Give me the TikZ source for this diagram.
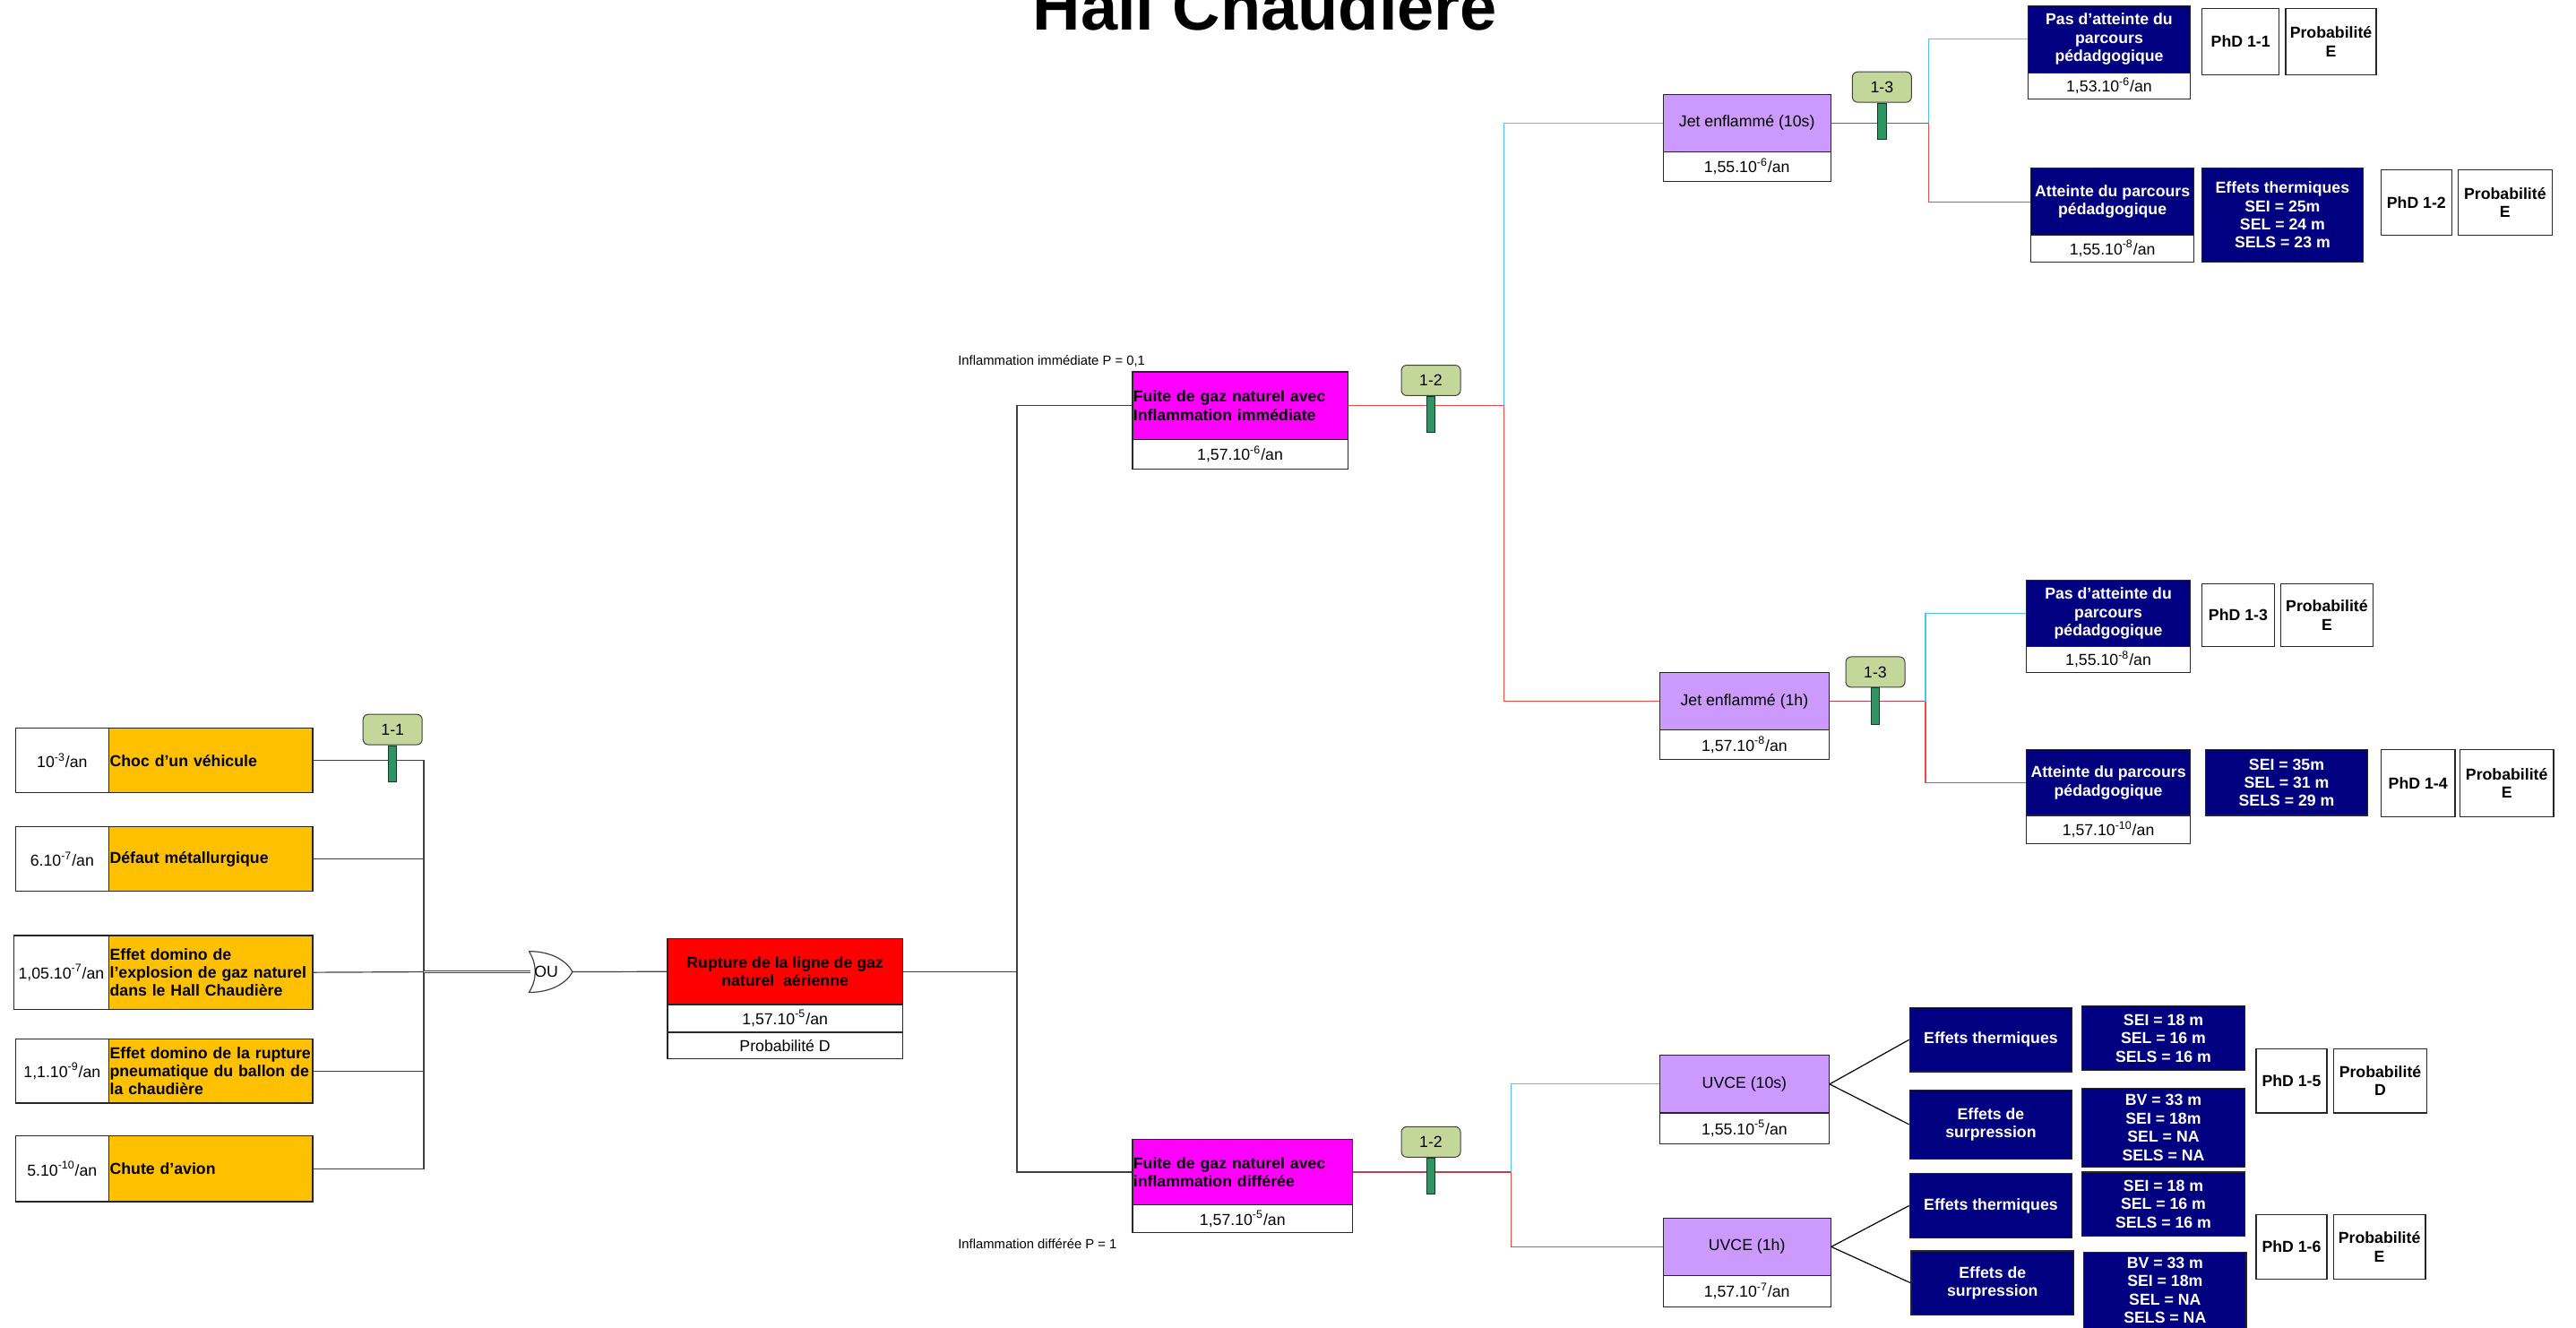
\documentclass[tikz,border=0pt]{standalone}
\usepackage{fontspec}
\setmainfont{Liberation Sans}
\def\pxu{0.91675pt}
\newcommand\fs{\fontsize{8.85pt}{10.2pt}\selectfont}
\newcommand\fsb{\fontsize{8.85pt}{10.2pt}\selectfont\bfseries}
\newcommand\fss{\fontsize{7.4pt}{8.6pt}\selectfont}
\definecolor{cOrange}{HTML}{FFC000}
\definecolor{cRed}{HTML}{FF0000}
\definecolor{cMag}{HTML}{FF00FF}
\definecolor{cLav}{HTML}{CC99FF}
\definecolor{cNavy}{HTML}{000080}
\definecolor{cTag}{HTML}{C4D79B}
\definecolor{cStem}{HTML}{2E9462}
\definecolor{cBlue}{HTML}{4FC3F0}
\definecolor{cRedL}{HTML}{F04848}
\definecolor{cDRed}{HTML}{B8434F}
\definecolor{cLine}{HTML}{404040}
\tikzset{
  R/.style n args={4}{at={(#1,#2)},anchor=north west,
    minimum width={(#3-#1)*\pxu},minimum height={(#4-#2)*\pxu}},
  cell/.style={draw=black!85,line width=0.6pt,inner sep=1pt,align=center,font=\fs},
  wcell/.style={cell,fill=white},
  lt/.style={align=left,text width={#1*\pxu-1pt},inner xsep=0.5pt},
  ocell/.style={cell,fill=cOrange,font=\fsb},
  rcell/.style={cell,fill=cRed,font=\fsb},
  mcell/.style={cell,fill=cMag,font=\fsb},
  lcell/.style={cell,fill=cLav},
  ncell/.style={cell,fill=cNavy,text=white,font=\fsb},
  bcell/.style={cell,fill=white,font=\fsb},
  lbl/.style={font=\fss,inner sep=0pt},
  conn/.style={draw=cLine,line width=0.6pt},
  dbl/.style={draw=cLine,line width=0.6pt,double=white,double distance=0.7pt},
  bline/.style={draw=cBlue,line width=0.6pt},
  rline/.style={draw=cRedL,line width=0.6pt},
  drline/.style={draw=cDRed,line width=0.6pt},
  tag/.style={draw=black!75,fill=cTag,rounded corners=3pt,line width=0.5pt,
    font=\fs,minimum width=36*\pxu,minimum height=18.5*\pxu,inner sep=0pt},
  stem/.style={draw=black!60!cStem,fill=cStem,line width=0.4pt,anchor=north,
    minimum width=5*\pxu,minimum height=22*\pxu,inner sep=0pt},
  gate/.style={draw=cLine,line width=0.6pt,fill=white},
}
\begin{document}
\begin{tikzpicture}[x=0.91675pt,y=-0.91675pt]
\useasboundingbox (0,0) rectangle (1568,808);

% title
\node[font=\fontsize{37pt}{40pt}\selectfont\bfseries,anchor=base,inner sep=0pt] (title) at (770,18) {Hall Chaudière};

% initiating events
\node[wcell,R={9}{443}{66}{482}] (e1v) {10\textsuperscript{-3}/an};
\node[ocell,R={66}{443}{190}{482},lt=124] (e1) {Choc d'un véhicule};
\node[wcell,R={9}{503}{66}{542}] (e2v) {6.10\textsuperscript{-7}/an};
\node[ocell,R={66}{503}{190}{542},lt=124] (e2) {Défaut métallurgique};
\node[wcell,R={8}{569}{66}{614}] (e3v) {1,05.10\textsuperscript{-7}/an};
\node[ocell,R={66}{569}{190}{614},lt=124] (e3) {\mbox{Effet domino de}\\\mbox{l’explosion de gaz naturel}\\\mbox{dans le Hall Chaudière}};
\node[wcell,R={9}{632}{66}{671}] (e4v) {1,1.10\textsuperscript{-9}/an};
\node[ocell,R={66}{632}{190}{671},lt=124] (e4) {\mbox{Effet domino de la rupture}\\\mbox{pneumatique du ballon de}\\\mbox{la chaudière}};
\node[wcell,R={9}{691}{66}{731}] (e5v) {5.10\textsuperscript{-10}/an};
\node[ocell,R={66}{691}{190}{731},lt=124] (e5) {Chute d'avion};

% central event
\node[rcell,R={406}{571}{549}{611}] (rup) {Rupture de la ligne de gaz\\naturel~ aérienne};
\node[wcell,R={406}{611}{549}{628}] (rupv) {1,57.10\textsuperscript{-5}/an};
\node[wcell,R={406}{628}{549}{644}] (rupp) {Probabilité D};

% leaks
\node[mcell,R={689}{226}{820}{267},lt=131] (f1) {Fuite de gaz naturel avec\\Inflammation immédiate};
\node[wcell,R={689}{267}{820}{285}] (f1v) {1,57.10\textsuperscript{-6}/an};
\node[mcell,R={689}{693}{823}{733},lt=134] (f2) {Fuite de gaz naturel avec\\inflammation différée};
\node[wcell,R={689}{733}{823}{750}] (f2v) {1,57.10\textsuperscript{-5}/an};
\node[lbl,anchor=west] (l1) at (583,220) {Inflammation immédiate P = 0,1};
\node[lbl,anchor=west] (l2) at (583,757) {Inflammation différée P = 1};

% phenomena
\node[lcell,R={1012}{57}{1114}{92}] (j10) {Jet enflammé (10s)};
\node[wcell,R={1012}{92}{1114}{110}] (j10v) {1,55.10\textsuperscript{-6}/an};
\node[lcell,R={1010}{409}{1113}{444}] (j1h) {Jet enflammé (1h)};
\node[wcell,R={1010}{444}{1113}{462}] (j1hv) {1,57.10\textsuperscript{-8}/an};
\node[lcell,R={1010}{642}{1113}{677}] (u10) {UVCE (10s)};
\node[wcell,R={1010}{677}{1113}{696}] (u10v) {1,55.10\textsuperscript{-5}/an};
\node[lcell,R={1012}{741}{1114}{776}] (u1h) {UVCE (1h)};
\node[wcell,R={1012}{776}{1114}{795}] (u1hv) {1,57.10\textsuperscript{-7}/an};

% consequences, jet 10s
\node[ncell,R={1234}{3}{1333}{44}] (p11) {Pas d'atteinte du\\parcours\\pédadgogique};
\node[wcell,R={1234}{44}{1333}{60}] (p11v) {1,53.10\textsuperscript{-6}/an};
\node[bcell,R={1340}{5}{1387}{45}] (phd11) {PhD 1-1};
\node[bcell,R={1391}{5}{1446}{45}] (pr11) {Probabilité\\E};
\node[ncell,R={1236}{102}{1335}{143}] (a12) {Atteinte du parcours\\pédadgogique};
\node[wcell,R={1236}{143}{1335}{159}] (a12v) {1,55.10\textsuperscript{-8}/an};
\node[ncell,R={1340}{102}{1438}{159}] (d12) {Effets thermiques\\SEI = 25m\\SEL = 24 m\\SELS = 23 m};
\node[bcell,R={1449}{103}{1492}{143}] (phd12) {PhD 1-2};
\node[bcell,R={1496}{103}{1553}{143}] (pr12) {Probabilité\\E};

% consequences, jet 1h
\node[ncell,R={1233}{353}{1333}{393}] (p13) {Pas d'atteinte du\\parcours\\pédadgogique};
\node[wcell,R={1233}{393}{1333}{409}] (p13v) {1,55.10\textsuperscript{-8}/an};
\node[bcell,R={1340}{355}{1384}{393}] (phd13) {PhD 1-3};
\node[bcell,R={1388}{355}{1444}{393}] (pr13) {Probabilité\\E};
\node[ncell,R={1233}{456}{1333}{496}] (a14) {Atteinte du parcours\\pédadgogique};
\node[wcell,R={1233}{496}{1333}{513}] (a14v) {1,57.10\textsuperscript{-10}/an};
\node[ncell,R={1342}{456}{1441}{496}] (d14) {SEI = 35m\\SEL = 31 m\\SELS = 29 m};
\node[bcell,R={1449}{456}{1494}{497}] (phd14) {PhD 1-4};
\node[bcell,R={1497}{456}{1554}{497}] (pr14) {Probabilité\\E};

% consequences, UVCE
\node[ncell,R={1162}{613}{1261}{652}] (et1) {Effets thermiques};
\node[ncell,R={1162}{663}{1261}{705}] (es1) {Effets de\\surpression};
\node[ncell,R={1267}{612}{1366}{651}] (dt1) {SEI = 18 m\\SEL = 16 m\\SELS = 16 m};
\node[ncell,R={1267}{662}{1366}{710}] (ds1) {BV = 33 m\\SEI = 18m\\SEL = NA\\SELS = NA};
\node[bcell,R={1373}{638}{1416}{677}] (phd15) {PhD 1-5};
\node[bcell,R={1420}{638}{1477}{677}] (pr15) {Probabilité\\D};
\node[ncell,R={1162}{714}{1261}{753}] (et2) {Effets thermiques};
\node[ncell,R={1163}{761}{1262}{800}] (es2) {Effets de\\surpression};
\node[ncell,R={1267}{713}{1366}{752}] (dt2) {SEI = 18 m\\SEL = 16 m\\SELS = 16 m};
\node[ncell,R={1268}{762}{1367}{808}] (ds2) {BV = 33 m\\SEI = 18m\\SEL = NA\\SELS = NA};
\node[bcell,R={1373}{739}{1416}{778}] (phd16) {PhD 1-6};
\node[bcell,R={1420}{739}{1476}{778}] (pr16) {Probabilité\\E};

% helper x positions
\coordinate (xa) at (258,0);
\coordinate (xb) at (619,0);
\coordinate (xc) at (915.5,0);
\coordinate (xd) at (920,0);
\coordinate (xe) at (1174,0);
\coordinate (xf) at (1172,0);

% OR gate
\coordinate (gin) at (323,591.5);
\coordinate (gout) at (348.5,591.5);
\coordinate (busA) at (gin -| xa);
\draw[conn] (e1.east) -| (busA);
\draw[conn] (e2.east) -| (busA);
\draw[conn] (e3.east) -- (busA);
\draw[conn] (e4.east) -| (busA);
\draw[conn] (e5.east) -| (busA);
\draw[dbl] (busA) -- (gin);
\draw[gate] (322,579) .. controls (336,579) and (345,585) .. (gout)
  .. controls (345,598) and (336,604) .. (322,604)
  .. controls (327,596) and (327,587) .. (322,579);
\node[font=\fs,anchor=west,inner sep=0pt] (ou) at (325,591.5) {OU};
\draw[conn] (gout) -- (rup.west);

% central to leaks
\coordinate (busB) at (rup.east -| xb);
\draw[conn] (rup.east) -- (busB);
\draw[conn] (busB) |- (f1.west);
\draw[conn] (busB) |- (f2.west);

% leak 1 to jets
\coordinate (busC) at (f1.east -| xc);
\draw[rline] (f1.east) -- (busC);
\draw[bline] (busC) |- (j10.west);
\draw[rline] (busC) |- (j1h.west);

% leak 2 to UVCE
\coordinate (busD) at (f2.east -| xd);
\draw[drline] (f2.east) -- (busD);
\draw[bline] (busD) |- (u10.west);
\draw[rline] (busD) |- (u1h.west);

% jet 10s
\coordinate (busE) at (j10.east -| xe);
\draw[drline] (j10.east) -- (busE);
\draw[bline] (busE) |- (p11.west);
\draw[rline] (busE) |- (a12.west);

% jet 1h
\coordinate (busF) at (j1h.east -| xf);
\draw[drline] (j1h.east) -- (busF);
\draw[bline] (busF) |- (p13.west);
\draw[rline] (busF) |- (a14.west);

% UVCE diagonals
\draw[conn,draw=black] (u10.east) -- (et1.west);
\draw[conn,draw=black] (u10.east) -- (es1.west);
\draw[conn,draw=black] (u1h.east) -- (et2.west);
\draw[conn,draw=black] (u1h.east) -- (es2.west);

% tags
\node[tag] (t11) at (239,444) {1-1};
\node[stem] (t11s) at (t11.south) {};
\node[tag] (t12a) at (871,231.5) {1-2};
\node[stem] (t12as) at (t12a.south) {};
\node[tag] (t12b) at (871,695) {1-2};
\node[stem] (t12bs) at (t12b.south) {};
\node[tag] (t13a) at (1145.5,53) {1-3};
\node[stem] (t13as) at (t13a.south) {};
\node[tag] (t13b) at (1141.5,409) {1-3};
\node[stem] (t13bs) at (t13b.south) {};
\end{tikzpicture}
\end{document}
